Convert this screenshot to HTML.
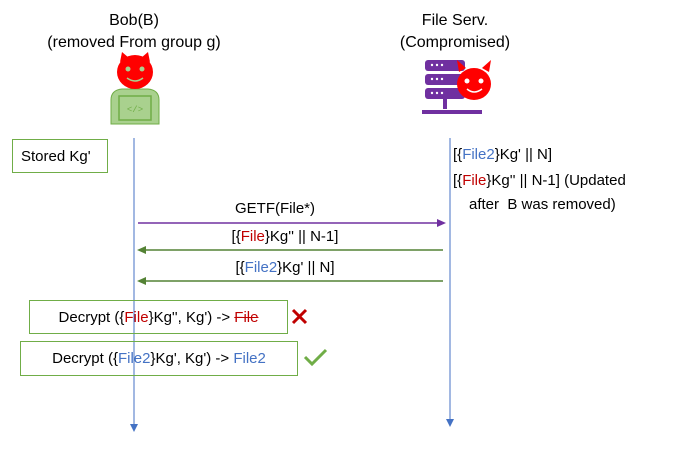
<!DOCTYPE html>
<html><head><meta charset="utf-8"><style>
body{margin:0;background:#fff;width:681px;height:454px;position:relative;overflow:hidden;font-family:"Liberation Sans",sans-serif;color:#000}
.t{position:absolute;font-size:15px;white-space:nowrap}
.r{color:#c00000}.b{color:#4472c4}
.box{position:absolute;border:1.5px solid #70ad47;box-sizing:border-box;font-size:15px;display:flex;align-items:center;justify-content:center;white-space:nowrap}
</style></head><body>
<div class="t" style="left:0;width:268px;text-align:center;top:12px;font-size:16px">Bob(B)</div>
<div class="t" style="left:0;width:268px;text-align:center;top:34px;font-size:16px">(removed From group g)</div>
<div class="t" style="left:355px;width:200px;text-align:center;top:12px;font-size:16px">File Serv.</div>
<div class="t" style="left:355px;width:200px;text-align:center;top:34px;font-size:16px">(Compromised)</div>

<svg width="681" height="454" style="position:absolute;left:0;top:0">
<path d="M111 124 L111 100 Q111 90 122 89 L148 89 Q159 90 159 100 L159 124 Z" fill="#a9d18e" stroke="#70ad47"/>
<rect x="119" y="96" width="32" height="24" fill="none" stroke="#70ad47" stroke-width="1.5"/>
<text x="135" y="112" font-size="9" text-anchor="middle" fill="#70ad47" font-family="Liberation Mono">&lt;/&gt;</text>
<path d="M120 62 L122 52 L129 58 Z M150 62 L148 52 L141 58 Z" fill="#ff0000"/>
<ellipse cx="135" cy="72" rx="18" ry="17" fill="#ff0000"/>
<circle cx="128" cy="69" r="2.5" fill="#a9d18e"/><circle cx="142" cy="69" r="2.5" fill="#a9d18e"/>
<path d="M127 78 Q135 84 143 78" stroke="#a9d18e" fill="none" stroke-width="1.5"/>
<g fill="#7030a0">
<rect x="425" y="60" width="40" height="11" rx="3"/><rect x="425" y="74" width="40" height="11" rx="3"/><rect x="425" y="88" width="40" height="11" rx="3"/>
<rect x="443" y="99" width="4" height="10"/><rect x="422" y="110" width="60" height="4"/>
</g>
<g fill="#fff"><circle cx="432" cy="65" r="1.2"/><circle cx="437" cy="65" r="1.2"/><circle cx="442" cy="65" r="1.2"/><circle cx="432" cy="79" r="1.2"/><circle cx="437" cy="79" r="1.2"/><circle cx="442" cy="79" r="1.2"/><circle cx="432" cy="93" r="1.2"/><circle cx="437" cy="93" r="1.2"/><circle cx="442" cy="93" r="1.2"/></g>
<path d="M459 72 L457 60 L466 68 Z M489 72 L491 60 L482 68 Z" fill="#ff0000"/>
<ellipse cx="474" cy="84" rx="17" ry="16" fill="#ff0000"/>
<circle cx="467" cy="81" r="2.5" fill="#fff"/><circle cx="481" cy="81" r="2.5" fill="#fff"/>
<path d="M467 89 Q474 95 482 89" stroke="#fff" fill="none" stroke-width="1.5"/>
<line x1="134" y1="138" x2="134" y2="426" stroke="#4472c4" stroke-width="1"/>
<path d="M130 424 L134 432 L138 424 Z" fill="#4472c4"/>
<line x1="450" y1="138" x2="450" y2="421" stroke="#4472c4" stroke-width="1"/>
<path d="M446 419 L450 427 L454 419 Z" fill="#4472c4"/>
<line x1="138" y1="223" x2="438" y2="223" stroke="#7030a0" stroke-width="1.5"/>
<path d="M437 219 L446 223 L437 227 Z" fill="#7030a0"/>
<line x1="145" y1="250" x2="443" y2="250" stroke="#548235" stroke-width="1.5"/>
<path d="M146 246 L137 250 L146 254 Z" fill="#548235"/>
<line x1="145" y1="281" x2="443" y2="281" stroke="#548235" stroke-width="1.5"/>
<path d="M146 277 L137 281 L146 285 Z" fill="#548235"/>
<path d="M293 310 L306 323 M306 310 L293 323" stroke="#c00000" stroke-width="3"/>
<path d="M305 357 L312 364 L326 350" stroke="#70ad47" stroke-width="3" fill="none"/>
</svg>

<div class="box" style="left:12px;top:139px;width:96px;height:34px;justify-content:flex-start;padding-left:8px">Stored Kg'</div>
<div class="t" style="left:453px;top:146px">[{<span class="b">File2</span>}Kg' || N]</div>
<div class="t" style="left:453px;top:172px">[{<span class="r">File</span>}Kg'' || N-1] (Updated</div>
<div class="t" style="left:469px;top:196px">after&nbsp; B was removed)</div>
<div class="t" style="left:175px;width:200px;text-align:center;top:200px">GETF(File*)</div>
<div class="t" style="left:185px;width:200px;text-align:center;top:228px">[{<span class="r">File</span>}Kg'' || N-1]</div>
<div class="t" style="left:185px;width:200px;text-align:center;top:259px">[{<span class="b">File2</span>}Kg' || N]</div>
<div class="box" style="left:29px;top:300px;width:259px;height:34px">Decrypt ({<span class="r">File</span>}Kg'', Kg') -&gt;&nbsp;<span class="r" style="text-decoration:line-through">File</span></div>
<div class="box" style="left:20px;top:341px;width:278px;height:35px">Decrypt ({<span class="b">File2</span>}Kg', Kg') -&gt;&nbsp;<span class="b">File2</span></div>
</body></html>
